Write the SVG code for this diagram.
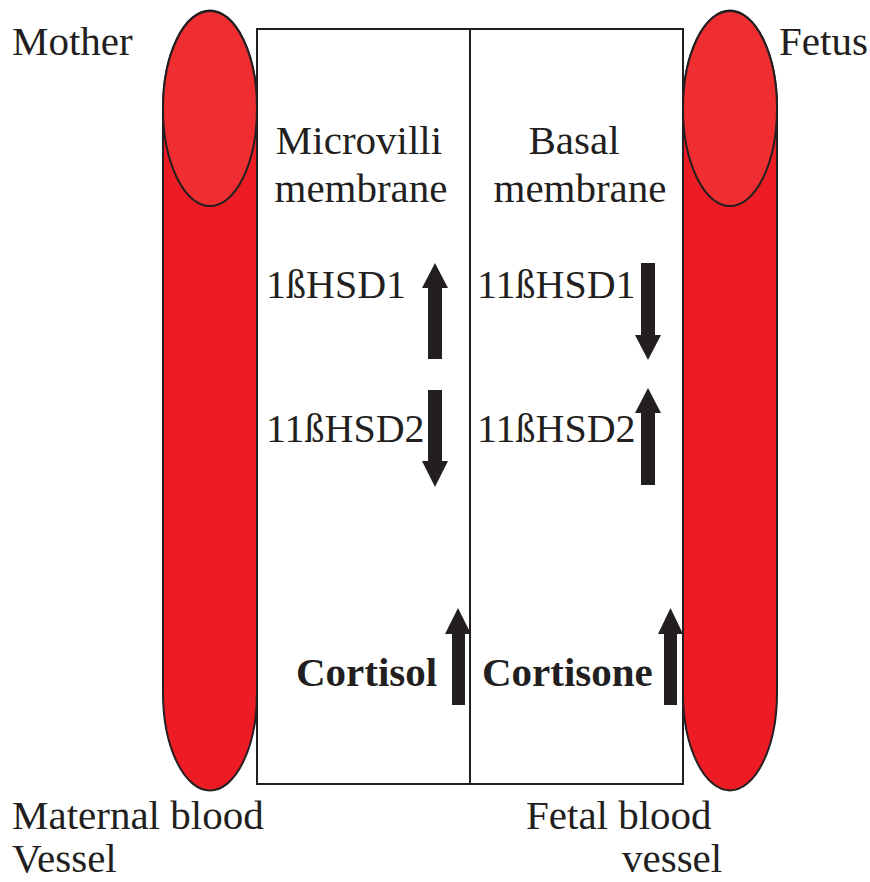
<svg xmlns="http://www.w3.org/2000/svg" width="870" height="882" viewBox="0 0 870 882">
<style>
.vessel{fill:#ED1C24;stroke:#231F20;stroke-width:2}
.cap{fill:#EE2E31;stroke:#231F20;stroke-width:2}
.box{fill:#FFFFFF;stroke:#231F20;stroke-width:2}
.arr{fill:#231F20}
text{font-family:'Liberation Serif','DejaVu Serif',serif;font-size:41px;fill:#231F20}
.hsd{font-size:40px}
.b{font-weight:bold}
.m{text-anchor:middle}
</style>
<rect width="870" height="882" fill="#FFFFFF"/>
<g id="maternal-vessel">
<path class="vessel" d="M163,108 L163,693 A47,97.5 0 0 0 257,693 L257,108 A47,97.5 0 0 0 163,108 Z"/>
<ellipse class="cap" cx="210" cy="108.5" rx="47" ry="97.5"/>
</g>
<g id="fetal-vessel">
<path class="vessel" d="M683,108 L683,693 A47,97.5 0 0 0 777,693 L777,108 A47,97.5 0 0 0 683,108 Z"/>
<ellipse class="cap" cx="730" cy="108.5" rx="47" ry="97.5"/>
</g>
<g id="microvilli-membrane">
<rect class="box" x="257" y="29" width="213" height="755"/>
<text class="m" x="359" y="154">Microvilli</text>
<text class="m" x="361" y="202">membrane</text>
<text class="hsd" x="266" y="298">1ßHSD1</text>
<text class="hsd" x="266" y="442">11ßHSD2</text>
<text class="b" x="296" y="686">Cortisol</text>
</g>
<g id="basal-membrane">
<rect class="box" x="470" y="29" width="213" height="755"/>
<text class="m" x="574" y="154">Basal</text>
<text class="m" x="580" y="202">membrane</text>
<text class="hsd" x="477" y="298">11ßHSD1</text>
<text class="hsd" x="477" y="442">11ßHSD2</text>
<text class="b" x="482" y="686">Cortisone</text>
</g>
<g id="connectors">
<polygon class="arr" points="435,263 448,288 442,288 442,359 428,359 428,288 422,288"/>
<polygon class="arr" points="428,390 442,390 442,461 448,461 435,487 422,461 428,461"/>
<polygon class="arr" points="641,263 655,263 655,335 661,335 648,360 635,335 641,335"/>
<polygon class="arr" points="648,388 661,413 655,413 655,485 641,485 641,413 635,413"/>
<polygon class="arr" points="458,608 471,634 465,634 465,705 452,705 452,634 445,634"/>
<polygon class="arr" points="670.5,608 683,634 677,634 677,705 664,705 664,634 658,634"/>
</g>
<g id="labels">
<text x="12" y="55">Mother</text>
<text x="779" y="55">Fetus</text>
<text x="12" y="829">Maternal blood</text>
<text x="12" y="872">Vessel</text>
<text x="526" y="829">Fetal blood</text>
<text x="622" y="872">vessel</text>
</g>
</svg>
